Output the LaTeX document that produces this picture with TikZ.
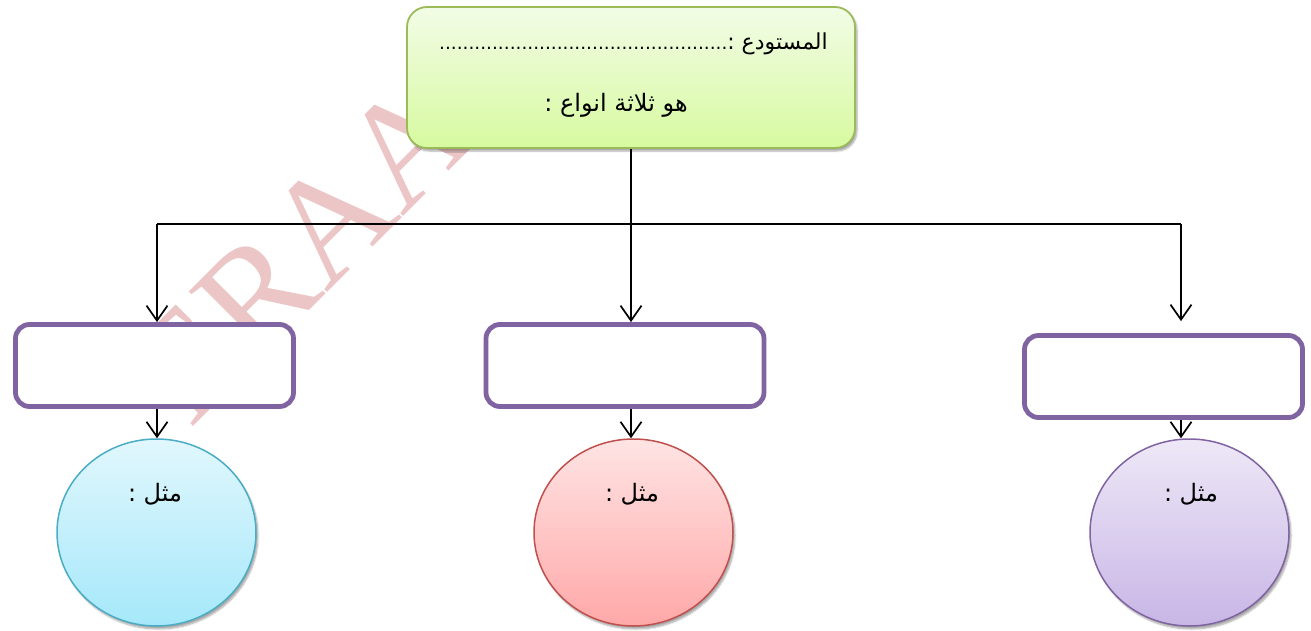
\documentclass[tikz,border=0pt]{standalone}
\usepackage{fontspec}
\TeXXeTstate=1
\newfontfamily\arabicfont[Script=Arabic]{DejaVu Sans}
\newfontfamily\wmfont{Liberation Serif}
\usetikzlibrary{arrows.meta,shapes.geometric,shadows.blur,calc}
\definecolor{wmpink}{RGB}{236,198,198}
\definecolor{gtop}{RGB}{242,252,230}
\definecolor{gbot}{RGB}{215,250,160}
\definecolor{gline}{RGB}{155,187,89}
\definecolor{purp}{RGB}{128,100,162}
\definecolor{btop}{RGB}{225,247,253}
\definecolor{bbot}{RGB}{165,232,250}
\definecolor{bline}{RGB}{75,172,198}
\definecolor{rtop}{RGB}{255,228,228}
\definecolor{rbot}{RGB}{255,168,168}
\definecolor{rline}{RGB}{192,80,77}
\definecolor{vtop}{RGB}{238,232,247}
\definecolor{vbot}{RGB}{200,182,230}
\begin{document}
\begin{tikzpicture}[x=1pt,y=-1pt,
  conn/.style={line width=1.7pt,black},
  arr/.style={conn,-{Straight Barb[length=15pt,width=21pt,line width=1.7pt]}},
  soft/.style={blur shadow={shadow xshift=2pt,shadow yshift=-3pt,shadow blur steps=6,shadow opacity=35}},
  topbox/.style={draw=gline,line width=1.8pt,rounded corners=20pt,top color=gtop,bottom color=gbot,minimum width=448pt,minimum height=141pt,inner sep=0pt,soft},
  typebox/.style={draw=purp,line width=4.8pt,rounded corners=14pt,fill=white,minimum width=278pt,minimum height=82pt,inner sep=0pt},
  blob/.style={ellipse,line width=1.5pt,minimum width=199pt,minimum height=187pt,inner sep=0pt,soft},
  artext/.style={font=\arabicfont\fontsize{24}{28}\selectfont,inner sep=0pt}
]
\useasboundingbox (0,0) rectangle (1311,631);
% watermark
\node[rotate=45,font=\wmfont\fontsize{150}{150}\selectfont,text=wmpink,inner sep=0pt] (wm) at (300,250) {ERAA};
% coordinates of the branch line
\coordinate (L) at (157,224);
\coordinate (R) at (1181,224);
% top box
\node[topbox] (top) at (631,77.5) {};
\node[artext,font=\arabicfont\fontsize{22}{26}\selectfont,anchor=base east] (t0) at (828,50) {\beginR المستودع :{\fontsize{18.5}{22}\selectfont.................................................}\endR};
\node[artext,anchor=base] (t1) at (616,112) {\beginR هو ثلاثة انواع :\endR};
% type boxes
\node[typebox] (b1) at (154.5,365.5) {};
\node[typebox] (b2) at (625,365.5) {};
\node[typebox] (b3) at (1163.5,376.5) {};
% circles
\node[blob,draw=bline,top color=btop,bottom color=bbot] (c1) at (156.5,532.5) {};
\node[blob,draw=rline,top color=rtop,bottom color=rbot] (c2) at (633.5,532.5) {};
\node[blob,draw=purp,top color=vtop,bottom color=vbot] (c3) at (1189.5,532.5) {};
\node[artext,anchor=base] (e1) at (155,501) {\beginR مثل :\endR};
\node[artext,anchor=base] (e2) at (632,501) {\beginR مثل :\endR};
\node[artext,anchor=base] (e3) at (1191,501) {\beginR مثل :\endR};
% connectors
\draw[conn] (L) -- (R);
\draw[arr] (top.south) -- (top.south |- b2.north);
\draw[arr] (L) -- (L |- b1.north);
\draw[arr,shorten >=12pt] (R) -- (R |- b3.north);
\draw[arr] (b1.south -| L) -- (c1.north -| L);
\draw[arr] (b2.south -| top.south) -- (c2.north -| top.south);
\draw[arr] (b3.south -| R) -- (c3.north -| R);
\end{tikzpicture}
\end{document}
